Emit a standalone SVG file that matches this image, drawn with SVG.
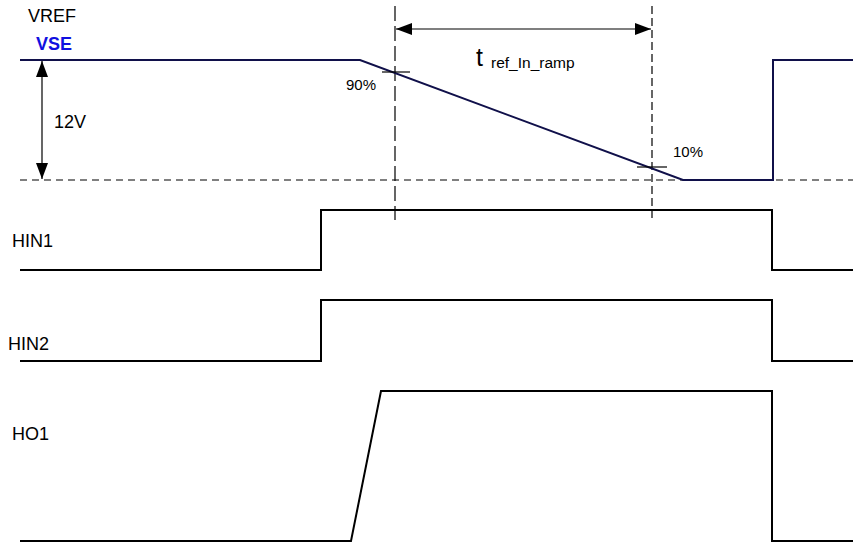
<svg xmlns="http://www.w3.org/2000/svg" width="853" height="546" viewBox="0 0 853 546">
<style>
.lbl{font-family:"Liberation Sans",Arial,sans-serif;font-size:18px;fill:#000}
.sm{font-family:"Liberation Sans",Arial,sans-serif;font-size:15px;fill:#000}
.sig{fill:none;stroke:#000;stroke-width:2;stroke-linejoin:miter}
.vref{fill:none;stroke:#10104a;stroke-width:2}
.dim{fill:none;stroke:#000;stroke-width:1.2}
</style>
<defs>
<marker id="ah" viewBox="0 0 16 12" refX="16" refY="6" markerWidth="16" markerHeight="12" markerUnits="userSpaceOnUse" orient="auto-start-reverse">
<path d="M0,0 L16,6 L0,12 Z" fill="#000"/>
</marker>
</defs>
<rect width="853" height="546" fill="#fff"/>
<g id="guides">
<line x1="20" y1="180" x2="853" y2="180" stroke="#555" stroke-width="1.3" stroke-dasharray="7,5"/>
<line x1="395" y1="6" x2="395" y2="220" stroke="#000" stroke-width="1.2" stroke-dasharray="15,5"/>
<line x1="652" y1="6" x2="652" y2="220" stroke="#000" stroke-width="1.2" stroke-dasharray="8,4"/>
</g>
<g id="vref">
<polyline class="vref" points="20,60 360,60 683,180 773,180 773,60 853,60"/>
<text class="lbl" x="28" y="22">VREF</text>
<text x="36" y="50" font-family="Liberation Sans,Arial,sans-serif" font-size="18" font-weight="bold" fill="#1010e0">VSE</text>
</g>
<g id="hin1">
<polyline class="sig" points="20,270 321,270 321,210 772,210 772,270 853,270"/>
<text class="lbl" x="12" y="247">HIN1</text>
</g>
<g id="hin2">
<polyline class="sig" points="20,361 321,361 321,300 772,300 772,361 853,361"/>
<text class="lbl" x="8" y="350">HIN2</text>
</g>
<g id="ho1">
<polyline class="sig" points="20,541 351,541 381,391 772,391 772,541 853,541"/>
<text class="lbl" x="12" y="440">HO1</text>
</g>
<g id="connectors">
<line class="dim" x1="42" y1="61" x2="42" y2="179" marker-start="url(#ah)" marker-end="url(#ah)"/>
<line class="dim" x1="396" y1="29" x2="651" y2="29" marker-start="url(#ah)" marker-end="url(#ah)"/>
<line class="dim" x1="382" y1="72" x2="410" y2="72"/>
<line class="dim" x1="637" y1="167" x2="667" y2="167"/>
</g>
<g id="labels">
<text class="lbl" x="54" y="128">12V</text>
<text class="sm" x="346" y="90">90%</text>
<text class="sm" x="673" y="157">10%</text>
<text x="476" y="66" font-family="Liberation Sans,Arial,sans-serif" font-size="25" fill="#000">t</text>
<text x="491" y="68" font-family="Liberation Sans,Arial,sans-serif" font-size="15.5" fill="#000">ref_In_ramp</text>
</g>
</svg>
